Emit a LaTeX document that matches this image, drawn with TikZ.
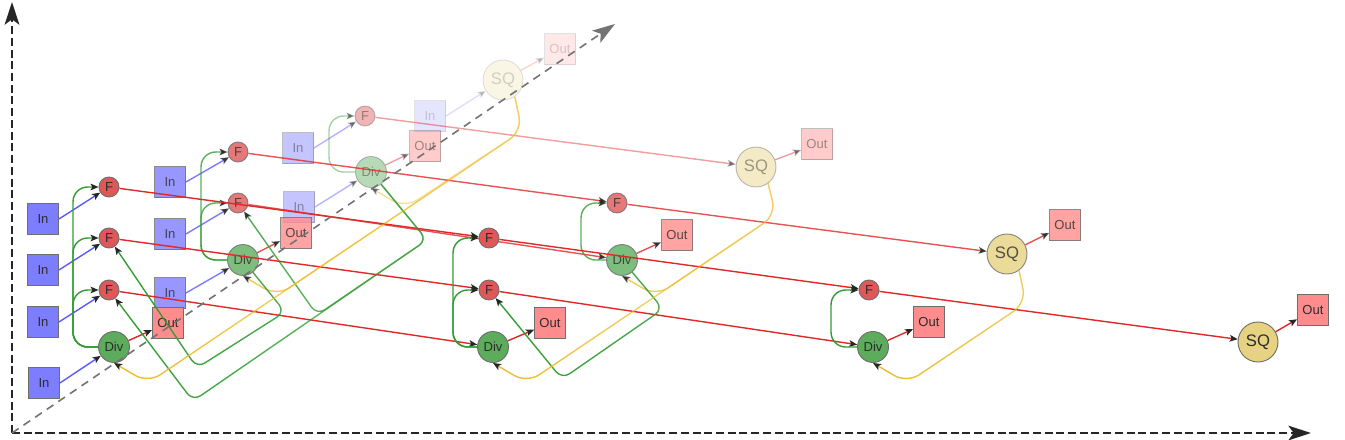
\documentclass[tikz,border=0pt]{standalone}
\usepackage{fontspec}
\setmainfont{Liberation Sans}
\usetikzlibrary{arrows.meta,fadings}

\definecolor{inblue}{RGB}{125,125,255}
\definecolor{fred}{RGB}{222,88,88}
\definecolor{divgreen}{RGB}{92,172,92}
\definecolor{outred}{RGB}{255,140,140}
\definecolor{sqyel}{RGB}{230,210,128}
\definecolor{bord}{RGB}{110,110,110}
\definecolor{eblue}{RGB}{90,90,255}
\definecolor{ered}{RGB}{225,40,40}
\definecolor{egreen}{RGB}{50,155,50}
\definecolor{eyel}{RGB}{235,188,40}
\definecolor{txt}{RGB}{45,45,45}

\tikzfading[name=fyA, left color=transparent!0, right color=transparent!65]
\tikzfading[name=fyB, left color=transparent!20, right color=transparent!65]
\tikzfading[name=fyC, left color=transparent!50, right color=transparent!70]
\tikzfading[name=fyD, left color=transparent!0, right color=transparent!55]
\tikzfading[name=fyE, left color=transparent!20, right color=transparent!55]
\tikzfading[name=fyF, left color=transparent!0, right color=transparent!25]
\tikzfading[name=fgA, left color=transparent!0, right color=transparent!35]
\tikzfading[name=fgB, left color=transparent!15, right color=transparent!35]
\tikzfading[name=fgC, left color=transparent!0, right color=transparent!15]

\tikzset{
  base/.style={draw=bord, line width=0.7pt, inner sep=0pt, text=txt, font=\fontsize{9.8}{10}\selectfont},
  inbox/.style={base, rectangle, fill=inblue, minimum size=23.25pt},
  outbox/.style={base, rectangle, fill=outred, minimum size=23.25pt},
  fnode/.style={base, circle, fill=fred, minimum size=15pt},
  divnode/.style={base, circle, fill=divgreen, minimum size=23.25pt},
  sqnode/.style={base, circle, fill=sqyel, minimum size=30pt, font=\fontsize{12.5}{13}\selectfont},
  tip/.style={-{Stealth[length=6pt,width=5pt,inset=1.4pt,color=black!85]}},
  eb/.style={tip, draw=eblue, line width=1.05pt},
  er/.style={tip, draw=ered, line width=1.05pt},
  eg/.style={tip, draw=egreen, line width=1.05pt, rounded corners=7pt},
  egl/.style={tip, draw=egreen, line width=1.05pt, rounded corners=11pt},
  ey/.style={tip, draw=eyel, line width=1.05pt, rounded corners=11pt},
  Lone/.style={opacity=0.8},
  Ltwo/.style={opacity=0.45},
  Lthree/.style={opacity=0.2},
  axisline/.style={draw=black!85, line width=1.5pt, dash pattern=on 6pt off 2.8pt,
    -{Stealth[length=17pt,width=11pt,inset=4pt]}},
  diagaxis/.style={draw=black!55, line width=1.2pt, dash pattern=on 6pt off 4.5pt,
    -{Stealth[length=17pt,width=11pt,inset=4pt]}},
}

\begin{document}
\begin{tikzpicture}[x=0.75pt,y=-0.75pt]
\useasboundingbox (0,0) rectangle (1345,439);

% ---------------- layer 3 ----------------
\node[inbox,Lthree] (I30) at (430,116) {In};
\node[sqnode,Lthree] (S30) at (503,80) {SQ};
\node[outbox,Lthree] (OS30) at (560,49) {Out};
\draw[eb,Lthree] (I30.east) -- (S30);
\draw[er,Lthree] (S30) -- (OS30);

% ---------------- layer 2 ----------------
\node[inbox,Ltwo] (I2a) at (298,148) {In};
\node[inbox,Ltwo] (I2b) at (299,207) {In};
\node[fnode,Ltwo] (F202) at (365,116) {F};
\node[divnode,Ltwo] (D20) at (371,172) {Div};
\node[outbox,Ltwo] (O20) at (425,146) {Out};
\node[sqnode,Ltwo] (S21) at (756,167) {SQ};
\node[outbox,Ltwo] (OS21) at (817,144) {Out};
\draw[eb,Ltwo] (I2a.east) -- (F202);
\draw[eb,Ltwo] (I2b.east) -- (D20);
\draw[egl,Ltwo] (D20.west) -- ++(-26,0) |- (F202.west);
\draw[er,Ltwo] (D20) -- (O20);
\draw[er,Ltwo] (F202) -- (S21);
\draw[er,Ltwo] (S21) -- (OS21);
\draw[ey,path fading=fyC] (S30.-55) -- (522,131) -- (405,208) -- (D20.south);

% ---------------- layer 1 ----------------
\node[inbox,Lone] (I1a) at (170,182) {In};
\node[inbox,Lone] (I1b) at (170,234) {In};
\node[inbox,Lone] (I1c) at (170,293) {In};
\node[fnode,Lone] (F101) at (238,152) {F};
\node[fnode,Lone] (F102) at (238,203) {F};
\node[divnode,Lone] (D10) at (243,260) {Div};
\node[outbox,Lone] (O10) at (296,233) {Out};
\node[fnode,Lone] (F112) at (617,203) {F};
\node[divnode,Lone] (D11) at (622,260) {Div};
\node[outbox,Lone] (O11) at (677,235) {Out};
\node[sqnode,Lone] (S12) at (1007,254) {SQ};
\node[outbox,Lone] (OS12) at (1065,225) {Out};
\draw[eb,Lone] (I1a.east) -- (F101);
\draw[eb,Lone] (I1b.east) -- (F102);
\draw[eb,Lone] (I1c.east) -- (D10);
\draw[egl,Lone] (D10.west) -- ++(-26,0) |- (F101.west);
\draw[egl,Lone] (D10.west) -- ++(-26,0) |- (F102.west);
\draw[er,Lone] (D10) -- (O10);
\draw[er,Lone] (F101) -- (F112);
\draw[er,Lone] (F102) -- (D11);
\draw[egl,Lone] (D11.west) -- ++(-25,0) |- (F112.west);
\draw[er,Lone] (D11) -- (O11);
\draw[er,Lone] (F112) -- (S12);
\draw[er,Lone] (S12) -- (OS12);
\draw[eg,path fading=fgB] (D20) -- (427,240) -- (317,315) -- (F102);
\draw[ey,path fading=fyB] (S30.-55) -- (522,131) -- (277,296) -- (D10.south);
\draw[ey,path fading=fyE] (S21.-54) -- (776,215) -- (656,296) -- (D11.south);

% ---------------- layer 0 ----------------
\node[inbox] (I0a) at (43,219) {In};
\node[inbox] (I0b) at (43,270) {In};
\node[inbox] (I0c) at (43,322) {In};
\node[inbox] (I0d) at (44,383) {In};
\node[fnode] (F000) at (109,187) {F};
\node[fnode] (F001) at (109,238) {F};
\node[fnode] (F002) at (109,290) {F};
\node[divnode] (D00) at (114,347) {Div};
\node[outbox] (O00) at (168,323) {Out};
\node[fnode] (F011) at (489,238) {F};
\node[fnode] (F012) at (489,290) {F};
\node[divnode] (D01) at (493,347) {Div};
\node[outbox] (O01) at (550,323) {Out};
\node[fnode] (F022) at (869,290) {F};
\node[divnode] (D02) at (873,347) {Div};
\node[outbox] (O02) at (929,322) {Out};
\node[sqnode] (S03) at (1258,342) {SQ};
\node[outbox] (OS03) at (1313,310) {Out};

\draw[eb] (I0a.east) -- (F000);
\draw[eb] (I0b.east) -- (F001);
\draw[eb] (I0c.east) -- (F002);
\draw[eb] (I0d.east) -- (D00);
\draw[egl] (D00.west) -- ++(-25,0) |- (F000.west);
\draw[egl] (D00.west) -- ++(-25,0) |- (F001.west);
\draw[egl] (D00.west) -- ++(-25,0) |- (F002.west);
\draw[er] (D00) -- (O00);
\draw[er] (F000) -- (F011);
\draw[er] (F001) -- (F012);
\draw[er] (F002) -- (D01);
\draw[egl] (D01.west) -- ++(-24,0) |- (F011.west);
\draw[egl] (D01.west) -- ++(-24,0) |- (F012.west);
\draw[er] (D01) -- (O01);
\draw[er] (F011) -- (F022);
\draw[er] (F012) -- (D02);
\draw[egl] (D02.west) -- ++(-26,0) |- (F022.west);
\draw[er] (D02) -- (O02);
\draw[er] (F022) -- (S03);
\draw[er] (S03) -- (OS03);

\draw[eg,path fading=fgC] (D10) -- (285,312) -- (197,368) -- (F001);
\draw[eg,path fading=fgA] (D20) -- (427,240) -- (193,401) -- (F002);
\draw[eg,path fading=fgC] (D11) -- (663,309) -- (562,379) -- (F012);
\draw[ey,path fading=fyA] (S30.-55) -- (522,131) -- (148,383) -- (D00.south);
\draw[ey,path fading=fyD] (S21.-54) -- (776,215) -- (527,383) -- (D01.south);
\draw[ey,path fading=fyF] (S12.-54) -- (1026,303) -- (907,383) -- (D02.south);

% ---------------- axes ----------------
\coordinate (Oax) at (12,433);
\coordinate (Yax) at (12,2);
\coordinate (Xax) at (1311,433);
\coordinate (Zax) at (615,24);
\draw[axisline] (Oax) -- (Yax);
\draw[axisline] (Oax) -- (Xax);
\draw[diagaxis] (Oax) -- (Zax);
\end{tikzpicture}
\end{document}
